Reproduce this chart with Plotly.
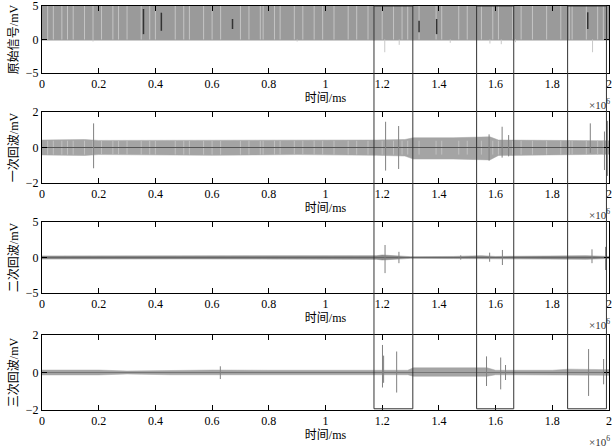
import plotly.graph_objects as go

# ---------------- data (time in units of 10^6 ms) ----------------
tick_vals = [0, 0.2, 0.4, 0.6, 0.8, 1.0, 1.2, 1.4, 1.6, 1.8, 2.0]
tick_text = ["0", "0.2", "0.4", "0.6", "0.8", "1", "1.2", "1.4", "1.6", "1.8", "2"]
y_titles = ["原始信号/mV", "一次回波/mV", "二次回波/mV", "三次回波/mV"]
y_limits = [5, 2, 5, 2]

# raw signal: dense pulse train between 0 and 5 mV
raw_env_x = [0.0, 2.0]
raw_env_hi = [5.0, 5.0]
raw_env_lo = [-0.1, -0.1]
raw_light_x = [0.02, 0.04, 0.07, 0.09, 0.11, 0.15, 0.18, 0.21, 0.25, 0.27, 0.30, 0.35,
               0.38, 0.40, 0.47, 0.50, 0.52, 0.57, 0.60, 0.63, 0.70, 0.73, 0.77, 0.78,
               0.82, 0.84, 0.89, 0.92, 0.96, 0.99, 1.03, 1.08, 1.11, 1.15, 1.20, 1.24,
               1.27, 1.29, 1.33, 1.39, 1.41, 1.47, 1.50, 1.55, 1.59, 1.61, 1.66, 1.69,
               1.73, 1.78, 1.83, 1.86, 1.87, 1.92, 1.96, 1.98]
raw_dark_x = [0.358, 0.421, 0.672, 1.330, 1.392, 1.925]
raw_dark_lo = [0.8, 1.3, 1.57, 1.1, 0.8, 1.57]
raw_dark_hi = [4.55, 4.0, 3.06, 2.8, 3.06, 4.06]
raw_dip_x = [0.18, 0.9, 1.209, 1.26, 1.44, 1.58, 1.62, 1.67, 1.942]
raw_dip_lo = [-0.3, -0.3, -1.9, -0.8, -0.5, -0.6, -0.7, -0.4, -1.9]

# first echo
e1_x = [0.0, 0.1, 0.15, 0.2, 0.5, 0.6, 0.9, 1.18, 1.28, 1.31, 1.45, 1.55, 1.58, 1.61, 1.8, 2.0]
e1_hi = [0.42, 0.45, 0.45, 0.40, 0.40, 0.44, 0.40, 0.42, 0.45, 0.55, 0.55, 0.58, 0.6, 0.42, 0.40, 0.38]
e1_lo = [-0.42, -0.45, -0.45, -0.40, -0.42, -0.44, -0.40, -0.44, -0.48, -0.65, -0.65, -0.68, -0.7, -0.45, -0.40, -0.38]
e1_spk_x = [0.182, 1.212, 1.258, 1.577, 1.623, 1.646, 1.934, 1.984, 1.995]
e1_spk_lo = [-1.17, -1.3, -1.21, -0.74, -0.57, -0.5, -0.3, -1.27, -1.6]
e1_spk_hi = [1.36, 1.45, 1.21, 0.74, 1.17, 0.7, 1.36, 0.9, 1.5]

# second echo
e2_x = [0.0, 0.5, 1.0, 1.18, 1.2, 1.27, 1.3, 1.45, 1.5, 1.55, 1.6, 1.75, 1.85, 1.92, 2.0]
e2_hi = [0.22, 0.2, 0.22, 0.25, 0.35, 0.2, 0.12, 0.15, 0.2, 0.25, 0.15, 0.2, 0.25, 0.25, 0.15]
e2_lo = [-0.22, -0.2, -0.22, -0.25, -0.35, -0.2, -0.12, -0.15, -0.2, -0.25, -0.15, -0.2, -0.25, -0.25, -0.15]
e2_spk_x = [1.21, 1.259, 1.477, 1.579, 1.624, 1.94, 1.988]
e2_spk_lo = [-2.2, -0.8, -0.3, -0.6, -1.06, -0.8, -1.76]
e2_spk_hi = [1.76, 0.8, 0.3, 0.68, 1.06, 1.15, 1.5]

# third echo
e3_x = [0.0, 0.2, 0.3, 0.45, 0.6, 0.8, 1.0, 1.2, 1.29, 1.31, 1.45, 1.57, 1.6, 1.8, 1.86, 1.92, 2.0]
e3_hi = [0.13, 0.13, 0.08, 0.12, 0.13, 0.12, 0.12, 0.12, 0.12, 0.25, 0.25, 0.25, 0.12, 0.12, 0.18, 0.18, 0.15]
e3_lo = [-0.13, -0.13, -0.08, -0.12, -0.13, -0.12, -0.12, -0.12, -0.12, -0.2, -0.2, -0.2, -0.12, -0.12, -0.15, -0.15, -0.15]
e3_spk_x = [0.629, 1.201, 1.205, 1.251, 1.568, 1.618, 1.635, 1.928, 1.981]
e3_spk_lo = [-0.35, -0.8, -0.55, -1.07, -0.72, -0.9, -0.4, -1.25, -0.63]
e3_spk_hi = [0.33, 1.47, 0.9, 1.12, 0.86, 0.8, 0.4, 1.25, 0.72]

# highlighted regions
regions = [(1.171, 1.308), (1.533, 1.664), (1.854, 1.991)]

# ---------------- figure ----------------
W, H = 614, 448
MT, MB = 6, 38
plot_h = H - MT - MB
panel_px = [(6, 73), (112, 183), (222, 293), (335, 410)]


def ydom(top, bot):
    return [1 - (bot - MT) / plot_h, 1 - (top - MT) / plot_h]


BAND = "#a4a4a4"
SPIKE = "#808080"
serif = "Liberation Serif, Noto Sans CJK SC"

fig = go.Figure()


def add_band(ax, xs, hi, lo, color=BAND):
    fig.add_trace(go.Scatter(x=list(xs) + list(xs)[::-1], y=list(hi) + list(lo)[::-1],
                             fill="toself", fillcolor=color, mode="lines",
                             line=dict(width=0.5, color=color), hoverinfo="skip",
                             showlegend=False, xaxis="x" + ax, yaxis="y" + ax))


def add_vlines(ax, xs, lo, hi, color, width=1.0):
    px, py = [], []
    for x, a, b in zip(xs, lo, hi):
        px += [x, x, None]
        py += [a, b, None]
    fig.add_trace(go.Scatter(x=px, y=py, mode="lines", line=dict(color=color, width=width),
                             hoverinfo="skip", showlegend=False, xaxis="x" + ax, yaxis="y" + ax))


def add_center(ax, xs, color="#555555"):
    fig.add_trace(go.Scatter(x=[xs[0], xs[-1]], y=[0, 0], mode="lines",
                             line=dict(color=color, width=1), hoverinfo="skip",
                             showlegend=False, xaxis="x" + ax, yaxis="y" + ax))


# panel 1
add_band("", raw_env_x, raw_env_hi, raw_env_lo, "#9a9a9a")
add_vlines("", raw_light_x, [0] * len(raw_light_x), [5] * len(raw_light_x), "#c4c4c4", 1)
add_vlines("", raw_dip_x, raw_dip_lo, [0] * len(raw_dip_x), "#c8c8c8", 1)
add_vlines("", raw_dark_x, raw_dark_lo, raw_dark_hi, "#333333", 1.5)
# panel 2
add_band("2", e1_x, e1_hi, e1_lo)
add_vlines("2", raw_light_x, [-0.4] * len(raw_light_x), [0.38] * len(raw_light_x), "#c0c0c0", 1)
add_center("2", e1_x)
add_vlines("2", e1_spk_x, e1_spk_lo, e1_spk_hi, SPIKE, 1)
# panel 3
add_band("3", e2_x, e2_hi, e2_lo, "#8a8a8a")
add_center("3", e2_x, "#666666")
add_vlines("3", e2_spk_x, e2_spk_lo, e2_spk_hi, SPIKE, 1)
# panel 4
add_band("4", e3_x, e3_hi, e3_lo)
add_center("4", e3_x, "#777777")
add_vlines("4", e3_spk_x, e3_spk_lo, e3_spk_hi, SPIKE, 1)

layout = dict(width=W, height=H, margin=dict(l=42, r=5, t=MT, b=MB, autoexpand=False),
              plot_bgcolor="white", paper_bgcolor="white", showlegend=False,
              font=dict(family=serif, size=12, color="black"))
annotations = []
for i in range(4):
    sfx = "" if i == 0 else str(i + 1)
    top, bot = panel_px[i]
    lim = y_limits[i]
    layout["xaxis" + sfx] = dict(domain=[0, 1], anchor="y" + sfx, range=[0, 2], automargin=False,
                                 tickvals=tick_vals, ticktext=tick_text, ticks="inside",
                                 ticklen=5, tickcolor="black", showline=True, linecolor="black",
                                 linewidth=1, mirror="ticks", showgrid=False, zeroline=False,
                                 ticklabeloverflow="allow",
                                 title=dict(text="时间/ms", standoff=2, font=dict(size=12)),
                                 tickfont=dict(size=12))
    layout["yaxis" + sfx] = dict(domain=ydom(top, bot), anchor="x" + sfx, range=[-lim, lim],
                                 automargin=False, ticklabeloverflow="allow",
                                 tickvals=[-lim, 0, lim], ticktext=["−%d" % lim, "0", "%d" % lim],
                                 ticks="inside", ticklen=5, tickcolor="black", showline=True,
                                 linecolor="black", linewidth=1, mirror="ticks", showgrid=False,
                                 zeroline=False, title=dict(text=y_titles[i], standoff=4,
                                                            font=dict(size=12)),
                                 tickfont=dict(size=12))
    annotations.append(dict(text="×10<sup>6</sup>", xref="x" + sfx + " domain", yref="y" + sfx + " domain",
                            x=1, y=0, xanchor="right", yanchor="middle", xshift=3, yshift=-31,
                            showarrow=False, font=dict(size=11, color="#333333")))
layout["annotations"] = annotations
layout["shapes"] = [dict(type="rect", xref="x4", yref="paper", x0=a, x1=b, y0=0.003, y1=1.0,
                         line=dict(color="#333333", width=1), fillcolor="rgba(0,0,0,0)")
                    for a, b in regions]
fig.update_layout(**layout)
fig.write_html("out.html", config={"displayModeBar": False},
               post_script="document.body.style.margin='0';document.body.style.overflow='hidden';")
